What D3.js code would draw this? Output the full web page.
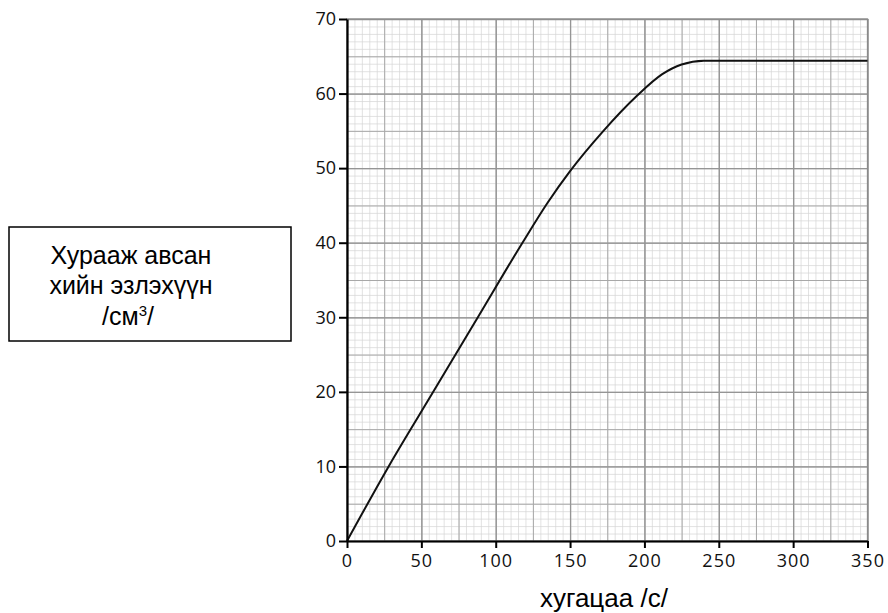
<!DOCTYPE html>
<html>
<head>
<meta charset="utf-8">
<script src="https://cdn.jsdelivr.net/npm/d3@7"></script>
<style>
  body { margin: 0; background: #fff; }
  .label { font-family: 'Liberation Sans', Arial, sans-serif; fill: #000; }
</style>
</head>
<body>
<script>
// readings off the graph paper
const timeSec = [0, 28, 58, 88, 118, 135, 150, 172, 195, 212, 225, 240, 350];
const volumeCm3 = [0, 10, 20, 30, 40, 45.4, 49.6, 54.9, 59.7, 62.6, 63.9, 64.4, 64.4];
const xTicks = [0, 50, 100, 150, 200, 250, 300, 350];
const yTicks = [0, 10, 20, 30, 40, 50, 60, 70];
const boxLines = ['Хурааж авсан', 'хийн эзлэхүүн'];

const W = 888, H = 613;
const m = { left: 347, top: 19 };
const w = 520.5, h = 522;

const svg = d3.select(document.body).append('svg')
  .attr('width', W).attr('height', H);

const g = svg.append('g').attr('transform', `translate(${m.left},${m.top})`);

const x = d3.scaleLinear().domain([0, 350]).range([0, w]);
const y = d3.scaleLinear().domain([0, 70]).range([h, 0]);

// graph paper: fine, medium, heavy lines
const grid = (vals, xs, col, sw) => {
  g.append('g').call(d3.axisBottom(x).tickValues(xs).tickSize(-h).tickFormat(''))
    .attr('transform', `translate(0,${h})`)
    .call(a => a.select('.domain').remove())
    .selectAll('line').attr('stroke', col).attr('stroke-width', sw);
  g.append('g').call(d3.axisLeft(y).tickValues(vals).tickSize(-w).tickFormat(''))
    .call(a => a.select('.domain').remove())
    .selectAll('line').attr('stroke', col).attr('stroke-width', sw);
};
grid(d3.range(0, 71, 1), d3.range(0, 351, 5), '#d6d6d6', 0.7);
grid(d3.range(0, 71, 5), d3.range(0, 351, 25), '#a8a8a8', 1);
grid(d3.range(0, 71, 10), d3.range(0, 351, 50), '#959595', 1.3);

// top and right border
g.append('rect').attr('width', w).attr('height', h)
  .attr('fill', 'none').attr('stroke', '#8a8a8a').attr('stroke-width', 1.3);

// curve
const line = d3.line()
  .x((d, i) => x(timeSec[i]))
  .y(d => y(d))
  .curve(d3.curveMonotoneX);

g.append('path')
  .datum(volumeCm3)
  .attr('d', line)
  .attr('fill', 'none')
  .attr('stroke', '#111')
  .attr('stroke-width', 2);

// axes
const xAxis = g.append('g').attr('transform', `translate(0,${h})`)
  .call(d3.axisBottom(x).tickValues(xTicks).tickSize(7).tickPadding(6).tickSizeOuter(0));
const yAxis = g.append('g')
  .call(d3.axisLeft(y).tickValues(yTicks).tickSize(8).tickPadding(3).tickSizeOuter(0));
[xAxis, yAxis].forEach(a => {
  a.select('.domain').attr('stroke', '#000').attr('stroke-width', 2.2);
  a.selectAll('.tick line').attr('stroke', '#000').attr('stroke-width', 2);
  a.selectAll('.tick text')
    .style('font-family', "'Open Sans', sans-serif")
    .style('font-size', '18px')
    .attr('fill', '#111');
});
xAxis.selectAll('.tick text').attr('letter-spacing', '1px');

// y label box
svg.append('rect')
  .attr('x', 9).attr('y', 227).attr('width', 282).attr('height', 114)
  .attr('fill', '#fff').attr('stroke', '#000').attr('stroke-width', 1.5);

const lbl = svg.append('text').attr('class', 'label')
  .attr('text-anchor', 'middle').style('font-size', '25px');
boxLines.forEach((t, i) => {
  lbl.append('tspan').attr('x', 131).attr('y', 264 + i * 30).text(t);
});
const unit = svg.append('text').attr('class', 'label')
  .attr('x', 128).attr('y', 325).attr('text-anchor', 'middle').style('font-size', '25px');
unit.append('tspan').text('/см');
unit.append('tspan').attr('dy', -9).style('font-size', '15px').text('3');
unit.append('tspan').attr('dy', 9).text('/');

// x label
svg.append('text').attr('class', 'label')
  .attr('x', 540).attr('y', 607)
  .style('font-size', '26px')
  .text('хугацаа /с/');
</script>
</body>
</html>
